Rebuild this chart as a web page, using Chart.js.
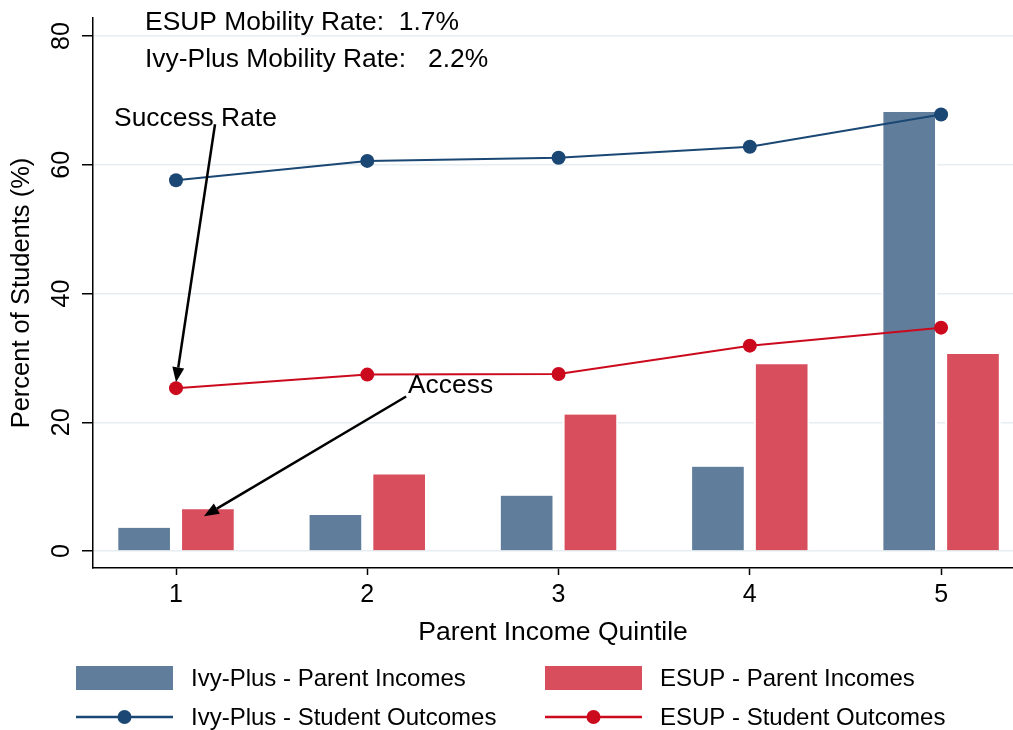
<!DOCTYPE html>
<html>
<head>
<meta charset="utf-8">
<script src="https://cdn.jsdelivr.net/npm/chart.js@4/dist/chart.umd.min.js"></script>
<style>
  html, body { margin: 0; padding: 0; background: #fff; }
  #graphique { display: block; }
</style>
</head>
<body>
<canvas id="graphique" width="1013" height="730"></canvas>
<script>
const quintiles = [1, 2, 3, 4, 5];
const ivyParents = [3.6, 5.6, 8.6, 13.1, 68.2];
const esupParents = [6.5, 11.9, 21.2, 29.0, 30.6];
const ivyOutcomes = [57.6, 60.6, 61.1, 62.8, 67.8];
const esupOutcomes = [25.3, 27.4, 27.5, 31.9, 34.7];
const yTicks = [0, 20, 40, 60, 80];
const mobilityNotes = ['ESUP Mobility Rate:  1.7%', 'Ivy-Plus Mobility Rate:   2.2%'];

const FONT = "'Liberation Sans', Arial, sans-serif";
const IVY_BAR = '#607e9b';
const ESUP_BAR = '#d94e5c';
const IVY_LINE = '#1a4773';
const ESUP_LINE = '#cc0a1e';

// bars sit either side of the quintile, lines on it
const decalage = 1 / 6;
const barPoints = (vals, shift) => vals.map((v, i) => ({ x: quintiles[i] + shift, y: v }));
const linePoints = vals => vals.map((v, i) => ({ x: quintiles[i], y: v }));

const barStyle = {
    type: 'bar',
    borderColor: '#ffffff',
    borderWidth: { top: 0, left: 2, right: 2, bottom: 0 },
    borderSkipped: 'bottom',
    grouped: false,
    categoryPercentage: 1,
    barPercentage: 1,
    maxBarThickness: 55,
    order: 2
};
const lineStyle = {
    type: 'line',
    borderWidth: 2,
    pointRadius: 7,
    pointBorderWidth: 0,
    tension: 0,
    order: 0
};

function fleche(ctx, x0, y0, x1, y1) {
    const ang = Math.atan2(y1 - y0, x1 - x0);
    const len = 15, half = 6;
    const bx = x1 - len * Math.cos(ang), by = y1 - len * Math.sin(ang);
    ctx.beginPath();
    ctx.moveTo(x0, y0);
    ctx.lineTo(bx, by);
    ctx.stroke();
    ctx.beginPath();
    ctx.moveTo(x1, y1);
    ctx.lineTo(bx + half * Math.sin(ang), by - half * Math.cos(ang));
    ctx.lineTo(bx - half * Math.sin(ang), by + half * Math.cos(ang));
    ctx.closePath();
    ctx.fill();
}

const extras = {
    id: 'extras',
    afterDatasetsDraw(chart) {
        const { ctx, scales: { x, y } } = chart;
        const px = v => x.getPixelForValue(v), py = v => y.getPixelForValue(v);
        ctx.save();
        ctx.fillStyle = '#000';
        ctx.strokeStyle = '#000';
        ctx.lineWidth = 2.5;
        ctx.font = '26.4px ' + FONT;
        ctx.textAlign = 'left';
        ctx.textBaseline = 'middle';
        ctx.fillText(mobilityNotes[0], px(0.838), py(82.0));
        ctx.fillText(mobilityNotes[1], px(0.838), py(76.3));
        ctx.fillText('Success Rate', px(0.676), py(67.2));
        ctx.fillText('Access', px(2.213), py(25.6));
        fleche(ctx, px(1.204), py(66.3), px(1.0), py(26.2));
        fleche(ctx, px(2.203), py(24.0), px(1.146), py(5.4));
        ctx.restore();
    },
    afterDraw(chart) {
        const { ctx, scales: { y } } = chart;
        ctx.save();
        // rotated y tick labels
        ctx.fillStyle = '#000';
        ctx.font = '25px ' + FONT;
        ctx.textAlign = 'center';
        ctx.textBaseline = 'middle';
        y.ticks.forEach(t => {
            ctx.save();
            ctx.translate(62, y.getPixelForValue(t.value));
            ctx.rotate(-Math.PI / 2);
            ctx.fillText(String(t.value), 0, 0);
            ctx.restore();
        });

        // legend, two columns
        const ds = chart.data.datasets;
        const cols = [76, 545];
        ctx.font = '24px ' + FONT;
        ctx.textAlign = 'left';
        [[0, 1], [2, 3]].forEach((pair, row) => {
            pair.forEach((di, c) => {
                const d = ds[di];
                const x0 = cols[c];
                const yc = row === 0 ? 678 : 717;
                if (d.type === 'bar') {
                    ctx.fillStyle = d.backgroundColor;
                    ctx.fillRect(x0, yc - 12, 97, 24);
                } else {
                    ctx.strokeStyle = d.borderColor;
                    ctx.lineWidth = 2.5;
                    ctx.beginPath();
                    ctx.moveTo(x0, yc);
                    ctx.lineTo(x0 + 97, yc);
                    ctx.stroke();
                    ctx.fillStyle = d.borderColor;
                    ctx.beginPath();
                    ctx.arc(x0 + 48.5, yc, 7, 0, Math.PI * 2);
                    ctx.fill();
                }
                ctx.fillStyle = '#000';
                ctx.fillText(d.label, x0 + 115, yc + 1);
            });
        });
        ctx.restore();
    }
};

new Chart(document.getElementById('graphique'), {
    type: 'bar',
    data: {
        datasets: [
            { ...barStyle, label: 'Ivy-Plus - Parent Incomes', data: barPoints(ivyParents, -decalage), backgroundColor: IVY_BAR },
            { ...barStyle, label: 'ESUP - Parent Incomes', data: barPoints(esupParents, decalage), backgroundColor: ESUP_BAR },
            { ...lineStyle, label: 'Ivy-Plus - Student Outcomes', data: linePoints(ivyOutcomes), borderColor: IVY_LINE, backgroundColor: IVY_LINE, pointBackgroundColor: IVY_LINE },
            { ...lineStyle, label: 'ESUP - Student Outcomes', data: linePoints(esupOutcomes), borderColor: ESUP_LINE, backgroundColor: ESUP_LINE, pointBackgroundColor: ESUP_LINE }
        ]
    },
    options: {
        responsive: false,
        animation: false,
        devicePixelRatio: 1,
        layout: { autoPadding: false, padding: { top: 18, right: 0, bottom: 0, left: 0 } },
        plugins: { legend: { display: false }, tooltip: { enabled: false } },
        scales: {
            x: {
                type: 'linear',
                min: 0.566,
                max: 5.376,
                offset: false,
                afterBuildTicks: s => { s.ticks = quintiles.map(v => ({ value: v })); },
                afterFit: s => { s.height = 162; s.paddingLeft = 0; s.paddingRight = 0; },
                grid: { offset: false, drawOnChartArea: false, drawTicks: true, tickLength: 7, tickColor: '#000', tickWidth: 1.5 },
                border: { color: '#000', width: 1.5 },
                ticks: { color: '#000', font: { family: FONT, size: 25 }, padding: 5, maxRotation: 0, autoSkip: false },
                title: { display: true, text: 'Parent Income Quintile', color: '#000', font: { family: FONT, size: 26.5 }, padding: { top: 0, bottom: 81 } }
            },
            y: {
                min: -2.64,
                max: 82.8,
                afterBuildTicks: s => { s.ticks = yTicks.map(v => ({ value: v })); },
                afterFit: s => { s.width = 93; s.paddingTop = 0; s.paddingBottom = 0; },
                grid: { color: '#e6eef1', lineWidth: 1.5, tickColor: '#000', tickLength: 11, tickWidth: 1.5 },
                border: { color: '#000', width: 1.5 },
                ticks: { display: false },
                title: { display: true, text: 'Percent of Students (%)', color: '#000', font: { family: FONT, size: 25.5 }, padding: { top: 7, bottom: 0 } }
            }
        }
    },
    plugins: [extras]
});
</script>
</body>
</html>
